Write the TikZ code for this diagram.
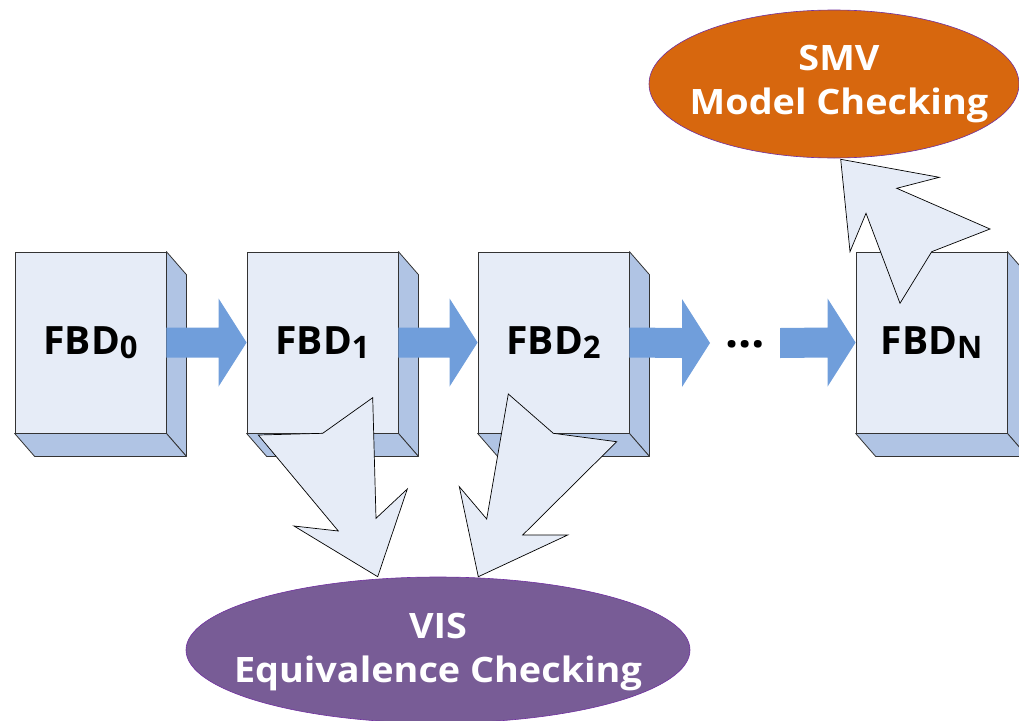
\documentclass[tikz,border=0pt]{standalone}
\usepackage{fontspec}
\setmainfont{Open Sans}
\newfontfamily\widesans{Open Sans}[FakeStretch=1.08]
\usetikzlibrary{calc,shapes.geometric}

\definecolor{faceFront}{RGB}{230,236,247}
\definecolor{faceSide}{RGB}{176,196,228}
\definecolor{flowBlue}{RGB}{112,158,219}
\definecolor{smvOrange}{RGB}{215,103,14}
\definecolor{visPurple}{RGB}{120,92,150}
\definecolor{rimPurple}{RGB}{112,48,160}

\tikzset{
  front/.style={rectangle, draw=black!80, line width=0.8pt, fill=faceFront,
    minimum width=151pt, minimum height=181pt, inner sep=0pt,
    font=\fontsize{39}{39}\selectfont\bfseries},
  face/.style={draw=black!80, line width=0.8pt, fill=faceSide, line join=round},
  flow/.style={fill=flowBlue},
  hollow/.style={draw=black, line width=0.7pt, fill=faceFront, line join=miter},
  checker/.style={ellipse, draw=rimPurple, line width=0.6pt, inner sep=0pt},
  checkertext/.style={text=white, align=center, inner sep=0pt,
    font=\widesans\fontsize{35}{44}\selectfont\bfseries},
}

% subscript index of a block label
\newcommand\blk[1]{FBD\raisebox{-4pt}{\fontsize{31}{31}\selectfont #1}}

% thick block arrow from one anchor to another
\newcommand\flowarrow[2]{%
  \fill[flow] ($(#1)+(0,-15)$) -- ($(#2)+(-28,-15)$) -- ($(#2)+(-28,-44)$)
    -- (#2) -- ($(#2)+(-28,44)$) -- ($(#2)+(-28,15)$) -- ($(#1)+(0,15)$) -- cycle;}

% side and bottom faces of a block
\newcommand\faces[1]{%
  \draw[face] (#1.north east) -- ++(20,23) -- ($(#1.south east)+(20,23)$) -- (#1.south east) -- cycle;
  \draw[face] (#1.south west) -- (#1.south east) -- ($(#1.south east)+(20,23)$) -- ($(#1.south west)+(20,23)$) -- cycle;}

\begin{document}
\begin{tikzpicture}[x=1pt,y=-1pt]
\useasboundingbox (0,0) rectangle (1019,720);
\clip (0,0) rectangle (1019,720);

% blocks
\node[front] (fbd0) at (90.5,342.5) {\blk{0}};
\node[front] (fbd1) at (322.5,342.5) {\blk{1}};
\node[front] (fbd2) at (553.5,342.5) {\blk{2}};
\node[front] (fbdn) at (931.5,342.5) {\blk{N}};
\faces{fbd0}
\faces{fbd1}
\faces{fbd2}
\faces{fbdn}

% sequence arrows
\coordinate (gapL) at (710,343);
\coordinate (gapR) at (780,343);
\node[anchor=base, inner sep=0pt, font=\fontsize{46}{46}\selectfont\bfseries] (dots) at (745,347) {\ldots};
\flowarrow{fbd0.east}{fbd1.west}
\flowarrow{fbd1.east}{fbd2.west}
\flowarrow{fbd2.east}{gapL}
\flowarrow{gapR}{fbdn.west}

% checkers
\node[checker, fill=smvOrange, minimum width=370pt, minimum height=148pt] (smv) at (834,84) {};
\node[checkertext] (smvtext) at (839,84) {SMV\\Model Checking};
\node[checker, fill=visPurple, minimum width=504pt, minimum height=146pt] (vis) at (438,650) {};
\node[checkertext] (vistext) at (438,652) {VIS\\Equivalence Checking};

% verification arrows
\draw[hollow] (258.3,435) -- (322.7,433.3) -- (372.7,397.7) -- (376,518.3) -- (407.3,489)
  -- (377.7,576.7) -- (294,526) -- (338.3,531) -- cycle;
\draw[hollow] (508.3,394) -- (553.3,433.3) -- (616.7,441.7) -- (522.7,535) -- (567.7,535)
  -- (478.3,576.7) -- (459.3,486.7) -- (486.7,519) -- cycle;
\draw[hollow] (840.7,159.3) -- (939.3,177.3) -- (896.7,188.3) -- (990,229) -- (931.7,251.7)
  -- (900,303.3) -- (866,213.3) -- (850,251.7) -- cycle;
\end{tikzpicture}
\end{document}
